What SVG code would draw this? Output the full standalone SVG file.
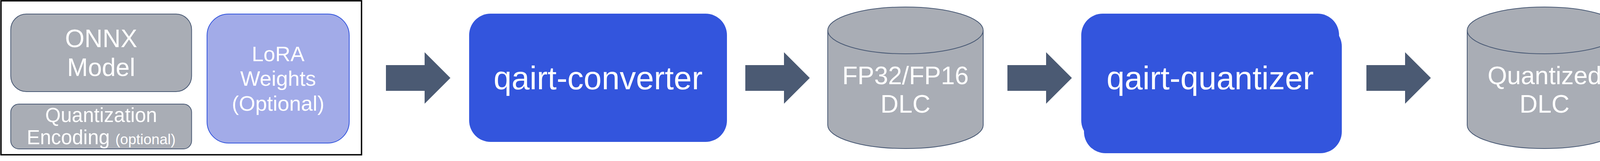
<svg xmlns="http://www.w3.org/2000/svg" width="4154" height="413" viewBox="0 0 4154 413">
  <style>
    .t { font-family: "Liberation Sans", Arial, sans-serif; fill: #ffffff; text-anchor: middle; }
    .gray { fill: #a9adb5; stroke: #4a5a75; stroke-width: 2; }
    .blue { fill: #3355dd; }
    .lora { fill: #a2abe8; stroke: #3355dd; stroke-width: 2; }
    .arrow { fill: #4b5a73; }
  </style>
  <rect x="0" y="0" width="4154" height="413" fill="#ffffff"/>

  <g id="inputs">
    <rect x="2.5" y="2" width="923" height="395" fill="#ffffff" stroke="#000000" stroke-width="3.5"/>
    <g id="onnx-model">
      <rect class="gray" x="27.5" y="36" width="463" height="199" rx="40" ry="40"/>
      <text class="t" x="259" y="121" font-size="64">ONNX</text>
      <text class="t" x="259" y="195" font-size="64">Model</text>
    </g>
    <g id="quant-encoding">
      <rect class="gray" x="27.5" y="267" width="463" height="115" rx="21" ry="21"/>
      <text class="t" x="259" y="313" font-size="51">Quantization</text>
      <text class="t" x="259" y="370" font-size="51">Encoding <tspan font-size="37">(optional)</tspan></text>
    </g>
    <g id="lora-weights">
      <rect class="lora" x="530" y="36" width="364" height="331" rx="55" ry="55"/>
      <text class="t" x="712" y="157" font-size="54">LoRA</text>
      <text class="t" x="712" y="220" font-size="54">Weights</text>
      <text class="t" x="712" y="284" font-size="54">(Optional)</text>
    </g>
  </g>

  <g id="qairt-converter">
    <rect class="blue" x="1201" y="35" width="660" height="329" rx="55" ry="55"/>
    <text class="t" x="1531" y="229" font-size="83">qairt-converter</text>
  </g>

  <g id="fp-dlc">
    <path class="gray" d="M2119,78 A199,60 0 0 1 2517,78 L2517,321 A199,60 0 0 1 2119,321 Z"/>
    <path fill="none" stroke="#4a5a75" stroke-width="2" d="M2119,78 A199,60 0 0 0 2517,78"/>
    <text class="t" x="2318" y="216" font-size="64">FP32/FP16</text>
    <text class="t" x="2318" y="289" font-size="64">DLC</text>
  </g>

  <g id="qairt-quantizer">
    <rect class="blue" x="2775" y="64" width="660" height="329" rx="55" ry="55"/>
    <rect class="blue" x="2768" y="35" width="660" height="329" rx="55" ry="55"/>
    <text class="t" x="3098" y="229" font-size="83">qairt-quantizer</text>
  </g>

  <g id="quantized-dlc">
    <path class="gray" d="M3756,78 A198,60 0 0 1 4152,78 L4152,321 A198,60 0 0 1 3756,321 Z"/>
    <path fill="none" stroke="#4a5a75" stroke-width="2" d="M3756,78 A198,60 0 0 0 4152,78"/>
    <text class="t" x="3954" y="216" font-size="64">Quantized</text>
    <text class="t" x="3954" y="289" font-size="64">DLC</text>
  </g>

  <g id="connectors">
    <polygon class="arrow" points="988,167 1087,167 1087,134 1153,200 1087,266 1087,233 988,233"/>
    <polygon class="arrow" points="1908,167 2007,167 2007,134 2073,200 2007,266 2007,233 1908,233"/>
    <polygon class="arrow" points="2579,167 2678,167 2678,134 2744,200 2678,266 2678,233 2579,233"/>
    <polygon class="arrow" points="3498,167 3597,167 3597,134 3663,200 3597,266 3597,233 3498,233"/>
  </g>
</svg>
